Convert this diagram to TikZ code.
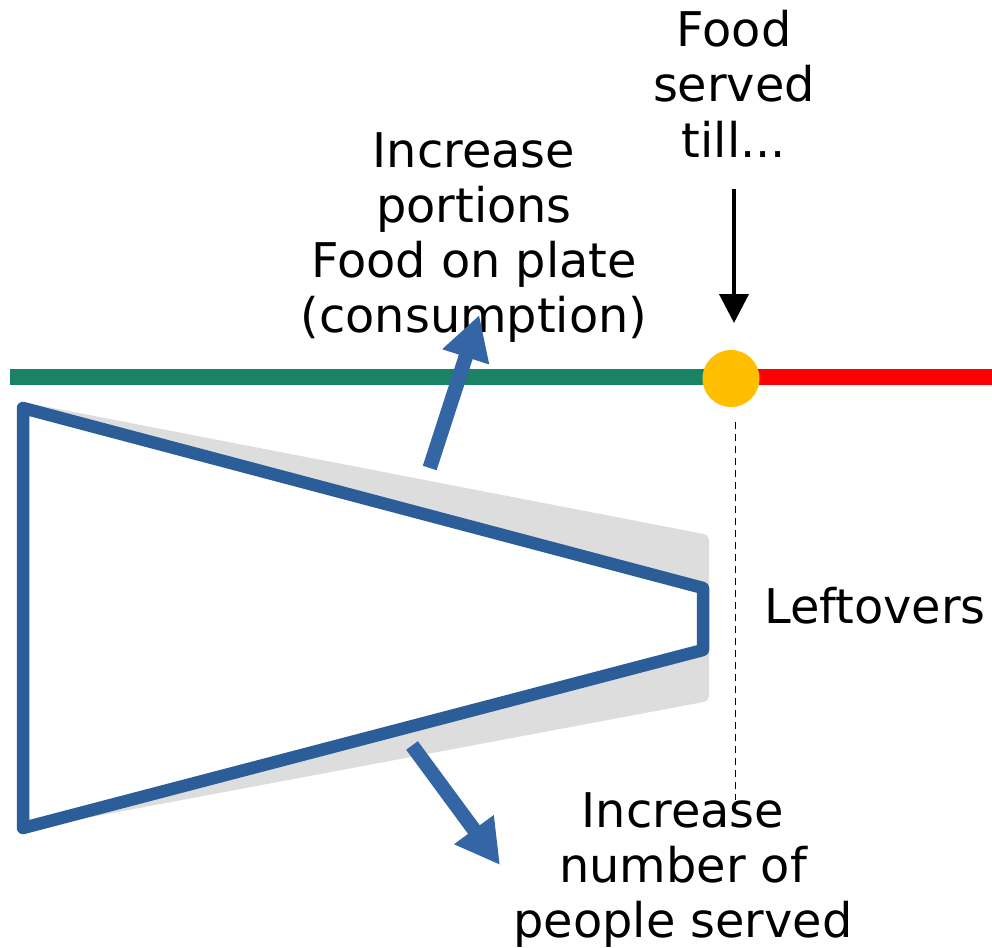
\documentclass[tikz,border=0pt]{standalone}
\usepackage{fontspec}
\setmainfont{DejaVu Sans}
\usetikzlibrary{arrows.meta}
\definecolor{timegreen}{HTML}{1A8265}
\definecolor{timered}{HTML}{FF0000}
\definecolor{cutyellow}{HTML}{FFBF00}
\definecolor{plateblue}{HTML}{2B5E99}
\definecolor{pushblue}{HTML}{3465A4}
\definecolor{wastegray}{HTML}{DDDDDD}
\tikzset{
  label text/.style={font=\fontsize{47.8}{55}\selectfont, align=center, inner sep=0pt},
  timeline/.style={line width=16pt},
  push arrow/.style={draw=pushblue, line width=14.5pt,
    -{Triangle[length=44pt,width=46pt]}},
  pointer/.style={draw=black, line width=4pt,
    -{Triangle[length=29pt,width=29pt]}},
}
\begin{document}
\begin{tikzpicture}[x=1pt,y=-1pt]
\useasboundingbox (0,0) rectangle (992,947);

% leftover band behind the plate outline
\fill[wastegray, rounded corners=5pt] (22,402) -- (709,535) -- (709,701) -- (22,830) -- cycle;

% plate outline
\draw[plateblue, fill=white, line width=12.5pt, line join=round]
  (23,408) -- (703,588) -- (703,650) -- (23,828) -- cycle;

% timeline with the cut-off point
\coordinate (tstart) at (10,377);
\coordinate (tend) at (992,377);
\coordinate (tcut) at (731,377);
\draw[timeline, timegreen] (tstart) -- (tcut);
\draw[timeline, timered] (tcut) -- (tend);
\node[circle, fill=cutyellow, minimum size=57pt, inner sep=0pt] (cut) at (731,378.5) {};

% dashed marker below the cut-off
\coordinate (dtop) at (735.5,422);
\coordinate (dbot) at (735.5,800);
\draw[line width=1.2pt, dash pattern=on 7pt off 5pt] (dtop) -- (dbot);

% labels (anchored at the baseline of their last line)
\node[label text, anchor=base] (served) at (734,157) {Food\\served\\till...};
\node[label text, anchor=base] (portions) at (474,332) {Increase\\portions\\Food on plate\\(consumption)};
\node[label text, anchor=base] (people) at (683,937) {Increase\\number of\\people served};
\node[label text, anchor=base west] (leftovers) at (764,623) {Leftovers};

% arrows
\coordinate (pstart) at (429.7,468);
\coordinate (ptip) at (479.3,315);
\draw[push arrow] (pstart) -- (ptip);
\coordinate (nstart) at (412,745.5);
\coordinate (ntip) at (500,865);
\draw[push arrow] (nstart) -- (ntip);
\coordinate (fstart) at (734,189);
\coordinate (ftip) at (734,323);
\draw[pointer] (fstart) -- (ftip);
\end{tikzpicture}
\end{document}
